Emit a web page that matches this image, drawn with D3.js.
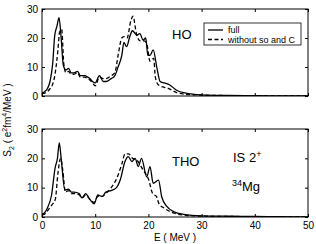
<!DOCTYPE html>
<html><head><meta charset="utf-8">
<script src="https://cdn.jsdelivr.net/npm/d3@7"></script>
<style>body{margin:0;background:#fff}svg{display:block}text{font-family:"Liberation Sans",Arial,sans-serif;fill:#000}</style>
</head><body><svg id="c" width="316" height="244"></svg>
<script>
const xTicks = [0,10,20,30,40,50];
const yTicks = [0,10,20,30];
// HO panel
const hoFullE = [0,0.5,1,1.5,2,2.4,2.8,3.2,3.6,4,4.5,5,5.5,6,6.7,7.2,8,8.6,9,9.5,10,10.8,11.5,12,13,13.7,14.3,15,15.4,15.9,16.5,17,17.8,18.4,19,19.5,19.9,20.3,20.9,21.6,22.2,23,24,25.3,27,30,35,40,45,50];
const hoFullV = [1,1.5,2.5,5,11,21,24,27,20,10.7,9,9.5,8,8,8.5,7,7,6.5,6,5,4.5,7,5,5,6,7,10,14,18.5,17,20.5,22.5,21,21.5,19.3,20,14,14,15.9,9.7,5,4.5,3.8,2,1,0.4,0.2,0.1,0.05,0.05];
const hoDashE = [0,0.5,1,1.5,2,2.4,3,3.3,3.7,4.1,4.5,5,5.5,6,6.7,7.2,8,8.6,9,9.5,10,10.8,11.5,12,13,13.7,14.3,15,15.4,16,16.7,17.1,17.8,18.5,19.2,19.7,20.3,21,21.3,21.9,23,23.6,25.3,27,30,35,40,45,50];
const hoDashV = [0.8,1,1.5,2.5,4,7,16,22,23,11,8,8.5,7.5,7.5,8,6.5,6.5,6,5.5,4.5,3.5,6.5,6,6,7,8,14,20,20.5,20,26,27.5,21,19,19,18,12,13,6.6,3.8,3,2.7,1.2,0.6,0.3,0.15,0.1,0.05,0.05];
// THO panel
const thoFullE = [0,0.5,1,1.8,2.45,2.9,3.25,3.6,4.3,5,5.5,6,7,7.5,8.2,9,9.8,10.5,11.3,12,13,14,14.7,15.6,16.2,16.9,17.5,18.1,18.7,19.7,20.3,20.9,21.9,22.5,23.5,24.8,26.7,30,35,40,45,50];
const thoFullV = [1,1.5,3,7.5,16.6,20,25.3,20,9.2,9.5,8.5,8.5,8,6.5,8,6,4.5,7.5,7,8.5,9,10,12.6,18.9,20.6,18.9,20,17.2,20,13.7,17.2,11.5,12.6,6.9,3.5,1.8,0.9,0.4,0.25,0.2,0.1,0.05];
const thoDashE = [0,0.5,1,1.8,2.5,3,3.5,3.9,4.4,5,5.5,6,7,7.5,8.2,9,9.8,10.5,11.3,12,13,14,15,15.6,16.3,17,18,19,20,20.8,21.5,22,23,25,27,30,35,40,45,50];
const thoDashV = [0.8,1,2,4,6,15,20,16,8.5,9,8,8,7.5,6.5,7.5,6,5,7,7,8,10,13,18,21.5,21.5,20,19,16,13,8,7,4.5,3,1.2,0.6,0.3,0.2,0.1,0.05,0.05];

const svg = d3.select("#c");
const x = d3.scaleLinear().domain([0,50]).range([42,308]);
const panels = [
  {top:9, bot:96, full:[hoFullE,hoFullV], dash:[hoDashE,hoDashV]},
  {top:129, bot:217, full:[thoFullE,thoFullV], dash:[thoDashE,thoDashV]}
];
panels.forEach((p,i)=>{
  const y = d3.scaleLinear().domain([0,30]).range([p.bot,p.top]);
  const g = svg.append("g");
  const clipId = "clip"+i;
  svg.append("clipPath").attr("id",clipId).append("rect").attr("x",42).attr("y",p.top).attr("width",266).attr("height",p.bot-p.top);
  const line = d3.line().x(d=>x(d[0])).y(d=>y(d[1])).curve(d3.curveMonotoneX);
  const mk = a=>a[0].map((e,k)=>[e,a[1][k]]);
  g.append("path").attr("clip-path",`url(#${clipId})`).attr("d",line(mk(p.dash))).attr("fill","none").attr("stroke","#000").attr("stroke-width",1.3).attr("stroke-dasharray","4,2.5");
  g.append("path").attr("clip-path",`url(#${clipId})`).attr("d",line(mk(p.full))).attr("fill","none").attr("stroke","#000").attr("stroke-width",1.3);
  const ax = (gen, tr)=>{
    const a = g.append("g").attr("transform",tr).call(gen);
    a.select(".domain").remove();
    a.selectAll("line").attr("stroke","#000");
    a.selectAll("text").attr("font-size",10);
    return a;
  };
  ax(d3.axisBottom(x).tickValues(xTicks).tickSize(-3).tickPadding(i===1?5:4).tickFormat(i===1?d3.format("d"):""), `translate(0,${p.bot})`);
  ax(d3.axisTop(x).tickValues(xTicks).tickSize(-3).tickFormat(""), `translate(0,${p.top})`);
  ax(d3.axisLeft(y).tickValues(yTicks).tickSize(-3).tickPadding(4).tickFormat(d3.format("d")), `translate(42,0)`);
  ax(d3.axisRight(y).tickValues(yTicks).tickSize(-3).tickFormat(""), `translate(308,0)`);
  g.append("rect").attr("x",42).attr("y",p.top).attr("width",266).attr("height",p.bot-p.top).attr("fill","none").attr("stroke","#000").attr("stroke-width",1);
});
// labels
svg.append("text").attr("x",172).attr("y",38.5).attr("font-size",13).text("HO");
svg.append("text").attr("x",172).attr("y",165.5).attr("font-size",13).text("THO");
const is = svg.append("text").attr("x",233).attr("y",162).attr("font-size",13);
is.append("tspan").text("IS  2");
is.append("tspan").attr("font-size",9).attr("dy",-5).text("+");
const mg = svg.append("text").attr("x",232).attr("y",190.5).attr("font-size",13);
mg.append("tspan").attr("font-size",9).attr("dy",-5).text("34");
mg.append("tspan").attr("dy",5).text("Mg");
// legend
const lg = svg.append("g");
lg.append("rect").attr("x",204).attr("y",23).attr("width",97).attr("height",22).attr("fill","#fff").attr("stroke","#000").attr("stroke-width",0.8);
lg.append("line").attr("x1",208).attr("x2",223).attr("y1",30).attr("y2",30).attr("stroke","#000").attr("stroke-width",1.3);
lg.append("line").attr("x1",208).attr("x2",223).attr("y1",39.5).attr("y2",39.5).attr("stroke","#000").attr("stroke-width",1.3).attr("stroke-dasharray","4,2.5");
lg.append("text").attr("x",228).attr("y",33).attr("font-size",9).text("full");
lg.append("text").attr("x",228).attr("y",42.5).attr("font-size",9).text("without so and C");
// axis titles
svg.append("text").attr("x",175).attr("y",241).attr("text-anchor","middle").attr("font-size",10).text("E ( MeV )");
const yl = svg.append("text").attr("transform","translate(11,120) rotate(-90)").attr("text-anchor","middle").attr("font-size",10);
yl.append("tspan").text("S");
yl.append("tspan").attr("font-size",7).attr("dy",3).text("2");
yl.append("tspan").attr("dy",-3).text(" ( e");
yl.append("tspan").attr("font-size",7).attr("dy",-4).text("2");
yl.append("tspan").attr("dy",4).text("fm");
yl.append("tspan").attr("font-size",7).attr("dy",-4).text("4");
yl.append("tspan").attr("dy",4).text("/MeV )");
</script></body></html>
